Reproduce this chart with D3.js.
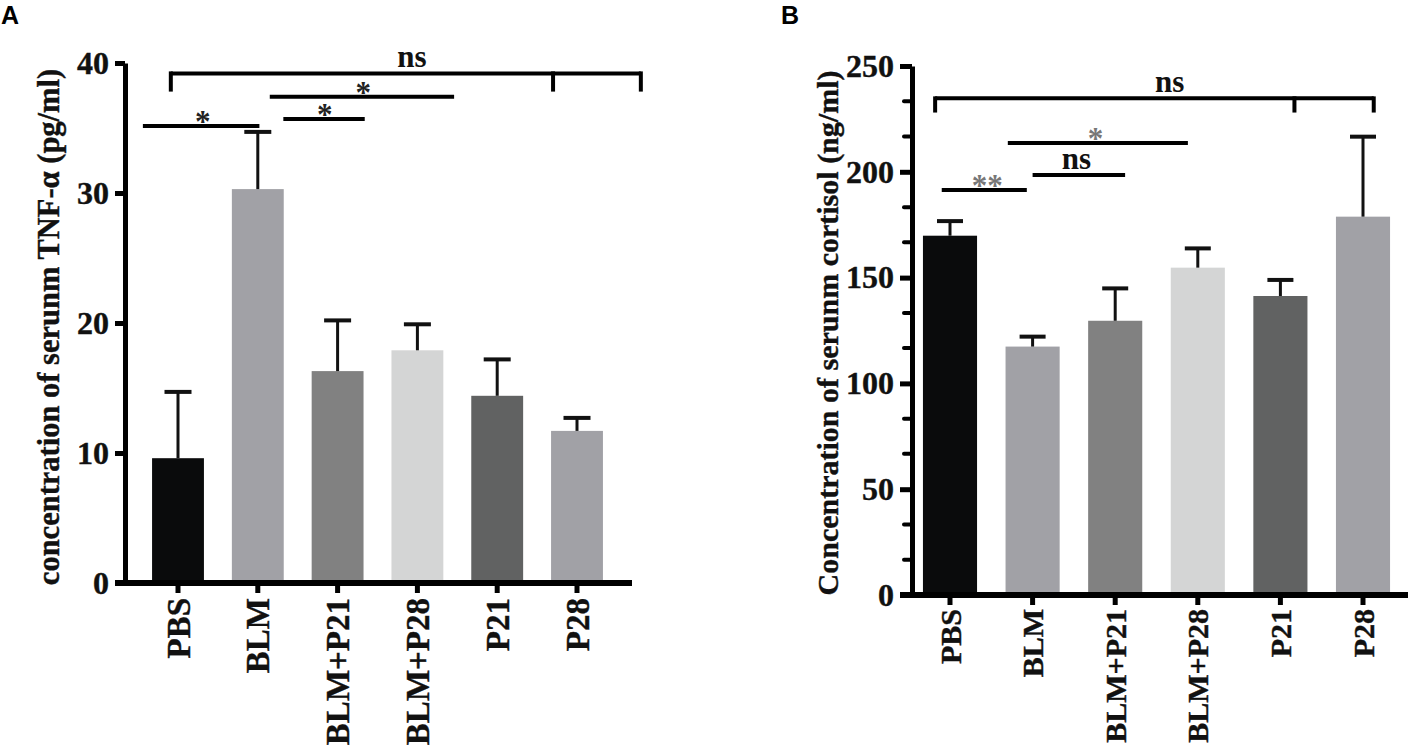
<!DOCTYPE html>
<html>
<head>
<meta charset="utf-8">
<script src="https://cdn.jsdelivr.net/npm/d3@7"></script>
<style>
  html, body { margin: 0; padding: 0; background: #fff; }
  svg { display: block; }
  text.serif { font-family: "Liberation Serif", "Times New Roman", serif; font-weight: bold; }
  text.panel { font-family: "Liberation Sans", Arial, sans-serif; font-weight: bold; }
</style>
</head>
<body>
<svg id="chart" width="1417" height="756"></svg>
<script>
// ---------- data ----------
const categories = ["PBS", "BLM", "BLM+P21", "BLM+P28", "P21", "P28"];
const barColors = ["#0a0b0c", "#a1a1a6", "#818181", "#d4d5d5", "#616262", "#a1a1a6"];

const tnfMean = [9.6, 30.3, 16.3, 17.9, 14.4, 11.7];
const tnfSem  = [5.1, 4.4, 3.9, 2.0, 2.8, 1.0];
const tnfTicks = [0, 10, 20, 30, 40];

const cortMean = [169.8, 117.4, 129.6, 154.7, 141.3, 178.8];
const cortSem  = [6.9, 4.7, 15.3, 9.1, 7.6, 37.8];
const cortTicks = [0, 50, 100, 150, 200, 250];
const cortMinorTicks = [16.7, 33.3, 66.7, 83.3, 116.7, 133.3, 166.7, 183.3, 216.7, 233.3];

// significance annotations: x positions in category-index units, y in data units
const tnfSig = [
  { from: -0.09, to: 5.8, y: 39.2, drops: [-0.09, 4.7, 5.8], dropTo: 37.8, label: "ns", at: 2.93, color: "#111" },
  { from: -0.44, to: 1.02, y: 35.15, drops: [], label: "*", at: 0.31, color: "#222" },
  { from: 1.15, to: 3.46, y: 37.4, drops: [], label: "*", at: 2.32, color: "#222" },
  { from: 1.32, to: 2.34, y: 35.7, drops: [], label: "*", at: 1.84, color: "#222" }
];
const cortSig = [
  { from: -0.18, to: 5.13, y: 234.7, drops: [-0.18, 4.17, 5.13], dropTo: 228.0, label: "ns", at: 2.66, color: "#111" },
  { from: 0.70, to: 2.88, y: 213.6, drops: [], label: "*", at: 1.76, color: "#777" },
  { from: 1.0, to: 2.12, y: 198.5, drops: [], label: "ns", at: 1.53, color: "#111" },
  { from: -0.10, to: 0.93, y: 191.4, drops: [], label: "**", at: 0.45, color: "#777" }
];

// ---------- drawing ----------
const svg = d3.select("#chart");

function drawPanel(cfg) {
  const g = svg.append("g");
  const y = d3.scaleLinear().domain(cfg.domain).range([cfg.y0, cfg.y1]);
  const step = (cfg.lastC - cfg.firstC) / (categories.length - 1);
  const x = d3.scaleBand().domain(categories)
    .range([cfg.firstC - step / 2, cfg.lastC + step / 2])
    .paddingInner(cfg.pad).paddingOuter(cfg.pad / 2);
  const xi = d3.scaleLinear().domain([0, categories.length - 1])
    .range([x(categories[0]) + x.bandwidth() / 2, x(categories[categories.length - 1]) + x.bandwidth() / 2]);

  // bars
  g.selectAll("rect.bar").data(cfg.mean).join("rect")
    .attr("class", "bar")
    .attr("x", (d, i) => x(categories[i]))
    .attr("width", x.bandwidth())
    .attr("y", d => y(d))
    .attr("height", d => y(0) - y(d))
    .attr("fill", (d, i) => barColors[i]);

  // error bars
  const eb = g.selectAll("g.err").data(cfg.mean).join("g").attr("class", "err");
  eb.append("line")
    .attr("x1", (d, i) => xi(i)).attr("x2", (d, i) => xi(i))
    .attr("y1", d => y(d)).attr("y2", (d, i) => y(d + cfg.sem[i]))
    .attr("stroke", "#111").attr("stroke-width", 3);
  eb.append("line")
    .attr("x1", (d, i) => xi(i) - cfg.cap / 2).attr("x2", (d, i) => xi(i) + cfg.cap / 2)
    .attr("y1", (d, i) => y(d + cfg.sem[i])).attr("y2", (d, i) => y(d + cfg.sem[i]))
    .attr("stroke", "#111").attr("stroke-width", 4);

  // y axis
  const yAxis = d3.axisLeft(y).tickValues(cfg.ticks).tickSize(cfg.tickLen).tickPadding(6).tickSizeOuter(0);
  const ya = g.append("g").attr("transform", `translate(${cfg.axisX},0)`).call(yAxis);
  ya.select(".domain").attr("stroke", "#000").attr("stroke-width", 5);
  ya.selectAll(".tick line").attr("stroke", "#000").attr("stroke-width", 5);
  ya.selectAll(".tick text").attr("class", "serif")
    .style("font-size", cfg.tickFont + "px").style("font-family", "'Liberation Serif', serif").style("font-weight", "bold")
    .attr("fill", "#111").attr("stroke", "#111").attr("stroke-width", 0.4);

  if (cfg.minor) {
    g.selectAll("line.minor").data(cfg.minor).join("line")
      .attr("class", "minor")
      .attr("x1", cfg.axisX - 8).attr("x2", cfg.axisX)
      .attr("y1", d => y(d)).attr("y2", d => y(d))
      .attr("stroke", "#000").attr("stroke-width", 4).attr("stroke-linecap", "round");
  }

  // x axis
  g.append("line")
    .attr("x1", cfg.axisX - cfg.tickLen).attr("x2", cfg.axisEnd)
    .attr("y1", y(0)).attr("y2", y(0))
    .attr("stroke", "#000").attr("stroke-width", 6);
  g.selectAll("line.xtick").data(categories).join("line")
    .attr("class", "xtick")
    .attr("x1", (d, i) => xi(i)).attr("x2", (d, i) => xi(i))
    .attr("y1", y(0)).attr("y2", y(0) + 10)
    .attr("stroke", "#000").attr("stroke-width", 5);
  g.selectAll("text.xlab").data(categories).join("text")
    .attr("class", "xlab serif")
    .attr("transform", (d, i) => `translate(${xi(i)},${y(0) + cfg.catGap}) rotate(-90)`)
    .attr("text-anchor", "end")
    .attr("dy", "0.35em")
    .style("font-size", cfg.catFont + "px")
    .attr("fill", "#111").attr("stroke", "#111").attr("stroke-width", 0.4)
    .text(d => d);

  // y title
  g.append("text").attr("class", "serif")
    .attr("transform", `translate(${cfg.titleX},${cfg.titleY}) rotate(-90)`)
    .attr("text-anchor", "middle")
    .attr("dy", "0.35em")
    .style("font-size", cfg.titleFont + "px")
    .attr("fill", "#111").attr("stroke", "#111").attr("stroke-width", 0.4)
    .text(cfg.title);

  // significance
  cfg.sig.forEach(s => {
    g.append("line")
      .attr("x1", xi(s.from)).attr("x2", xi(s.to))
      .attr("y1", y(s.y)).attr("y2", y(s.y))
      .attr("stroke", "#000").attr("stroke-width", 4);
    s.drops.forEach(dx => {
      g.append("line")
        .attr("x1", xi(dx)).attr("x2", xi(dx))
        .attr("y1", y(s.y) - 2).attr("y2", y(s.dropTo))
        .attr("stroke", "#000").attr("stroke-width", 4);
    });
    const isStar = s.label.indexOf("*") >= 0;
    g.append("text").attr("class", "serif")
      .attr("x", xi(s.at))
      .attr("y", y(s.y) + (isStar ? 6 : -6))
      .attr("text-anchor", "middle")
      .style("font-size", "31px")
      .attr("fill", s.color)
      .text(s.label);
  });

  // panel letter
  svg.append("text").attr("class", "panel")
    .attr("x", cfg.letterX).attr("y", 24)
    .style("font-size", "25px")
    .attr("fill", "#000")
    .text(cfg.letter);
}

drawPanel({
  letter: "A", letterX: 1,
  mean: tnfMean, sem: tnfSem, ticks: tnfTicks, domain: [0, 40],
  y0: 583, y1: 63, axisX: 125, axisEnd: 632, tickLen: 10,
  firstC: 178, lastC: 577, pad: 0.35, cap: 27,
  tickFont: 32, catFont: 33, catGap: 15, titleFont: 30.5,
  title: "concentration of serunm TNF-α (pg/ml)", titleX: 48, titleY: 327,
  sig: tnfSig
});

drawPanel({
  letter: "B", letterX: 781,
  mean: cortMean, sem: cortSem, ticks: cortTicks, minor: cortMinorTicks, domain: [0, 250],
  y0: 595, y1: 66, axisX: 912, axisEnd: 1408, tickLen: 12,
  firstC: 950, lastC: 1363, pad: 0.345, cap: 26,
  tickFont: 32, catFont: 30, catGap: 14, titleFont: 30,
  title: "Concentration of serunm cortisol (ng/ml)", titleX: 827, titleY: 333,
  sig: cortSig
});
</script>
</body>
</html>
